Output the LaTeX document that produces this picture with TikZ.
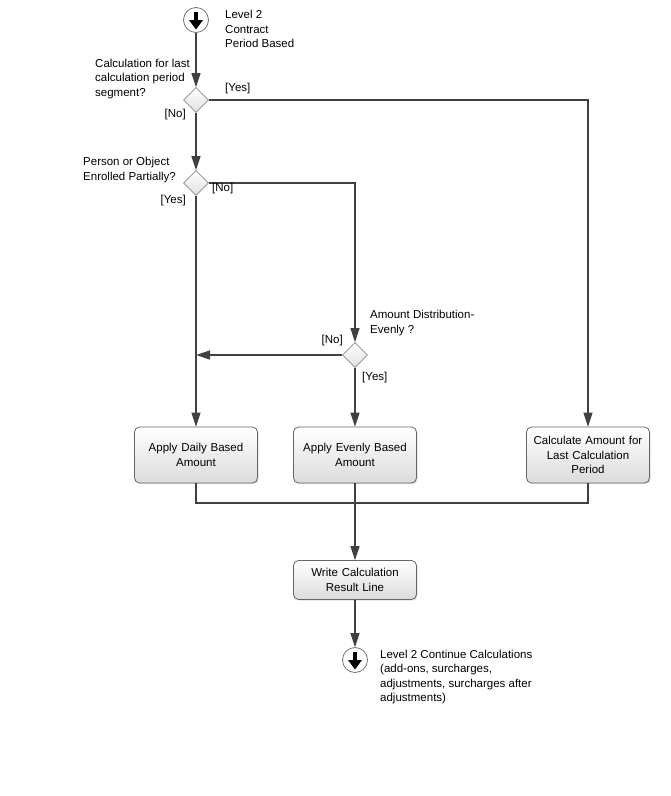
\documentclass[tikz,border=0pt]{standalone}
\usepackage{fontspec}
\setmainfont{Liberation Sans}
\usetikzlibrary{arrows.meta,shapes.geometric,shadows}
\usetikzlibrary{positioning}

\tikzset{
  flow/.style={draw=black!75,line width=1.3pt,-{Triangle[length=14pt,width=9pt]}},
  wire/.style={draw=black!75,line width=1.3pt},
  actbox/.style={rectangle,rounded corners=5pt,draw=black!60,line width=0.8pt,top color=white,bottom color=black!14,text width=116pt,minimum width=123pt,minimum height=56pt,align=center,drop shadow={shadow xshift=1.2pt,shadow yshift=-1.2pt,opacity=0.25}},
  choice/.style={diamond,draw=black!45,line width=0.8pt,top color=white,bottom color=black!12,minimum width=25pt,minimum height=25pt,inner sep=0pt},
  term/.style={circle,draw=black!55,line width=0.8pt,fill=white,minimum size=25pt,inner sep=0pt},
  note/.style={align=left,inner sep=0pt,anchor=west},
  guard/.style={inner sep=0pt}
}
\newcommand{\termarrow}[1]{%
  \fill[black] ([xshift=-2.4pt,yshift=8.5pt]#1.center) rectangle ([xshift=2.4pt,yshift=-1pt]#1.center);
  \fill[black] ([xshift=-7pt]#1.center) -- ([xshift=7pt]#1.center) -- ([yshift=-9.5pt]#1.center) -- cycle;}

\begin{document}
\begin{tikzpicture}[x=1pt,y=-1pt,font=\fontsize{11.5}{14.5}\selectfont]
\useasboundingbox (0,0) rectangle (671,796);

% start and end
\node at (196,20)[term](start){};
\termarrow{start}
\node at (225,29)[note](starttxt){Level 2\\Contract\\Period Based};

% decisions
\node at (196,100)[choice](lastseg){};
\node at (95,79)[note](lastsegtxt){Calculation for last\\calculation period\\segment?};
\node at (196,183)[choice](partial){};
\node at (83,170)[note](partialtxt){Person or Object\\Enrolled Partially?};
\node at (355,355)[choice](evenly){};
\node at (370,323)[note](evenlytxt){Amount Distribution-\\Evenly ?};

% actions
\node at (196,455)[actbox](daily){Apply Daily Based\\Amount};
\node at (355,455)[actbox](even){Apply Evenly Based\\Amount};
\node at (588,455)[actbox](lastamt){Calculate Amount for\\Last Calculation\\Period};
\node at (355,580)[actbox,minimum height=39pt](result){Write Calculation\\Result Line};

\node at (355,660)[term](stop){};
\termarrow{stop}
\node at (380,677)[note](stoptxt){Level 2 Continue Calculations\\(add-ons, surcharges,\\adjustments, surcharges after\\adjustments)};

% connectors
\coordinate (yescorner) at (588,100);
\coordinate (nocorner) at (355,183);
\coordinate (nojoin) at (196,355);
\coordinate (mergeL) at (196,503);
\coordinate (mergeM) at (355,503);
\coordinate (mergeR) at (588,503);

\draw[flow] (start) -- (lastseg);
\draw[flow] (lastseg.east) -- (yescorner) -- (lastamt);
\draw[flow] (lastseg) -- (partial);
\draw[flow] (partial) -- (daily);
\draw[flow] (partial.east) -- (nocorner) -- (evenly);
\draw[flow] (evenly.west) -- (nojoin);
\draw[flow] (evenly) -- (even);
\draw[wire] (daily) -- (mergeL) -- (mergeR) -- (lastamt);
\draw[wire] (even) -- (mergeM);
\draw[flow] (mergeM) -- (result);
\draw[flow] (result) -- (stop);

% guards
\node at (225,89)[guard,anchor=west](g1){[Yes]};
\node at (186,115)[guard,anchor=east](g2){[No]};
\node at (212,189)[guard,anchor=west](g3){[No]};
\node at (186,201)[guard,anchor=east](g4){[Yes]};
\node at (343,341)[guard,anchor=east](g5){[No]};
\node at (362,378)[guard,anchor=west](g6){[Yes]};
\end{tikzpicture}
\end{document}
